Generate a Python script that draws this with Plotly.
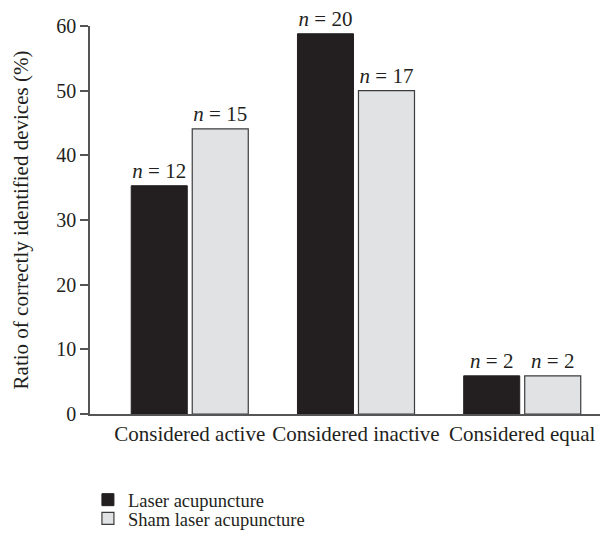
import plotly.graph_objects as go

categories = ["Considered active", "Considered inactive", "Considered equal"]
laser_values = [35.3, 58.8, 5.9]
sham_values = [44.1, 50.0, 5.9]
laser_n = [12, 20, 2]
sham_n = [15, 17, 2]
y_ticks = [0, 10, 20, 30, 40, 50, 60]

FONT = "Liberation Serif"
TXT = "#231f20"

fig = go.Figure()
fig.add_trace(go.Bar(
    name="Laser acupuncture", x=[0, 1, 2], y=laser_values,
    width=0.337, offset=-0.352, legend="legend",
    marker=dict(color="#231f20", line=dict(color="#231f20", width=1)),
    text=[f"<i>n</i> = {n}" for n in laser_n], textposition="outside",
    textfont=dict(family=FONT, size=21, color=TXT), cliponaxis=False,
))
fig.add_trace(go.Bar(
    name="Sham laser acupuncture", x=[0, 1, 2], y=sham_values,
    width=0.337, offset=0.015, legend="legend2",
    marker=dict(color="#e1e2e4", line=dict(color="#3c3c3c", width=1.2)),
    text=[f"<i>n</i> = {n}" for n in sham_n], textposition="outside",
    textfont=dict(family=FONT, size=21, color=TXT), cliponaxis=False,
))

leg_common = dict(xanchor="left", yanchor="middle",
                  font=dict(family=FONT, size=18.5, color=TXT),
                  itemwidth=30, bgcolor="rgba(0,0,0,0)")
fig.update_layout(
    width=600, height=535,
    margin=dict(l=82, r=1, t=18, b=129, autoexpand=False),
    paper_bgcolor="white", plot_bgcolor="white",
    font=dict(family=FONT, size=18, color=TXT),
    showlegend=True,
    legend=dict(x=-0.004, y=-0.222, **leg_common),
    legend2=dict(x=-0.004, y=-0.27, **leg_common),
)
fig.update_xaxes(
    range=[-0.6, 2.51], tickmode="array", tickvals=[0, 1, 2], ticktext=categories,
    showline=True, linecolor="#555555", linewidth=1.5, ticks="", showgrid=False,
    zeroline=False, automargin=False, tickfont=dict(family=FONT, size=21, color=TXT),
)
fig.update_yaxes(
    range=[0, 60], tickmode="array", tickvals=y_ticks,
    showline=True, linecolor="#555555", linewidth=1.5, ticks="outside", ticklen=8,
    tickcolor="#555555", tickwidth=1.5, showgrid=False, zeroline=False, automargin=False,
    tickfont=dict(family=FONT, size=20, color=TXT),
    title=dict(text="Ratio of correctly identified devices (%)", standoff=22,
               font=dict(family=FONT, size=21, color=TXT)),
)

fig.write_html("out.html")
